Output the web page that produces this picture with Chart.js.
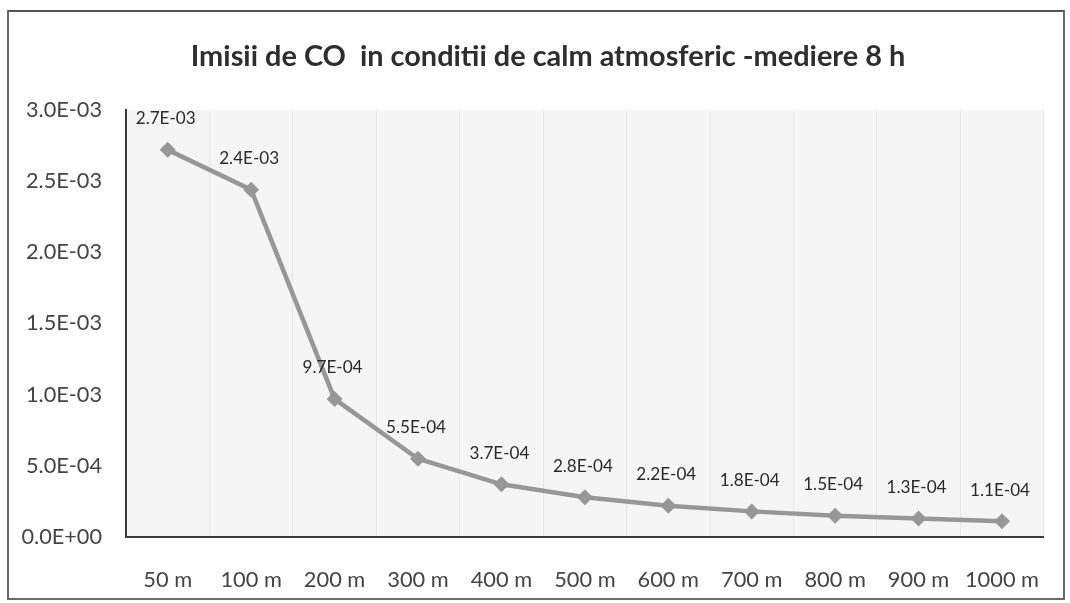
<!DOCTYPE html>
<html>
<head>
<meta charset="utf-8">
<script src="https://cdn.jsdelivr.net/npm/chart.js@4.4.1/dist/chart.umd.min.js"></script>
<style>
  html, body { margin: 0; padding: 0; background: #fff; }
  #wrap { position: relative; width: 1070px; height: 603px; }
  #frame { position: absolute; left: 7px; top: 10px; width: 1054px; height: 586px; border: 2px solid #6a6a6a; border-top-color: #555; pointer-events: none; }
  canvas { position: absolute; left: 0; top: 0; }
</style>
</head>
<body>
<div id="wrap">
  <canvas id="c" width="1070" height="603"></canvas>
  <div id="frame"></div>
</div>
<script>
const titleText = "Imisii de CO  in conditii de calm atmosferic -mediere 8 h";
const categories = ["50 m", "100 m", "200 m", "300 m", "400 m", "500 m", "600 m", "700 m", "800 m", "900 m", "1000 m"];
const imisiiCO = [0.00272, 0.00244, 0.00097, 0.00055, 0.00037, 0.00028, 0.00022, 0.00018, 0.00015, 0.00013, 0.00011];
const yTicks = [0, 0.0005, 0.001, 0.0015, 0.002, 0.0025, 0.003];

function sci(v) {
  const s = Number(v).toExponential(1);
  const [m, e] = s.split("e");
  const sign = e[0] === "-" ? "-" : "+";
  const d = e.replace(/[+-]/, "").padStart(2, "0");
  return m + "E" + sign + d;
}

// pick font sizes so the text widths match the reference
const mctx = document.createElement("canvas").getContext("2d");
function fitSize(text, weight, target) {
  mctx.font = weight + " 100px Lato";
  const w = mctx.measureText(text).width;
  return Math.round(target / w * 1000) / 10;
}
const titleSize = fitSize(titleText, "bold", 714);
const yTickSize = fitSize("3.0E-03", "normal", 76);
const xTickSize = fitSize("1000 m", "normal", 74);
const valSize = fitSize("1.1E-04", "normal", 60);

const bgPlugin = {
  id: "bg",
  beforeDraw(chart) {
    const a = chart.chartArea, ctx = chart.ctx;
    ctx.save();
    ctx.fillStyle = "#f5f5f5";
    ctx.fillRect(a.left, a.top, a.right - a.left, a.bottom - a.top);
    ctx.font = "bold " + titleSize + "px Lato";
    ctx.fillStyle = "#2e2e2e";
    ctx.textAlign = "center";
    ctx.textBaseline = "middle";
    ctx.fillText(titleText, 548, 57);
    ctx.restore();
  }
};

const labelPlugin = {
  id: "vals",
  afterDatasetsDraw(chart) {
    const ctx = chart.ctx;
    const meta = chart.getDatasetMeta(0);
    ctx.save();
    ctx.font = valSize + "px Lato";
    ctx.fillStyle = "#2a2a2a";
    ctx.textAlign = "center";
    ctx.textBaseline = "middle";
    meta.data.forEach((pt, i) => {
      ctx.fillText(sci(chart.data.datasets[0].data[i]), pt.x - 2, pt.y - 31);
    });
    ctx.restore();
  }
};

new Chart(document.getElementById("c"), {
  type: "line",
  data: {
    labels: categories,
    datasets: [{
      data: imisiiCO,
      borderColor: "#979797",
      backgroundColor: "#979797",
      borderWidth: 4.5,
      pointStyle: "rectRot",
      pointRadius: 8,
      pointBorderWidth: 0,
      tension: 0
    }]
  },
  options: {
    responsive: false,
    animation: false,
    layout: { padding: { left: 0, right: 21, top: 110, bottom: 0 } },
    plugins: {
      legend: { display: false },
      tooltip: { enabled: false },
      title: { display: false }
    },
    scales: {
      x: {
        offset: true,
        grid: { offset: true, color: "#e6e6e6", drawTicks: false },
        border: { color: "#3a3a3a", width: 2 },
        ticks: { color: "#444", font: { family: "Lato", size: xTickSize }, padding: 30, maxRotation: 0, autoSkip: false },
        afterFit(s) { s.height = 66; }
      },
      y: {
        min: 0,
        max: 0.003,
        afterBuildTicks(s) { s.ticks = yTicks.map(v => ({ value: v })); },
        grid: { display: false, drawTicks: false },
        border: { color: "#3a3a3a", width: 2 },
        ticks: { color: "#444", font: { family: "Lato", size: yTickSize }, padding: 24, callback: v => sci(v) },
        afterFit(s) { s.width = 126; }
      }
    }
  },
  plugins: [bgPlugin, labelPlugin]
});
</script>
</body>
</html>
